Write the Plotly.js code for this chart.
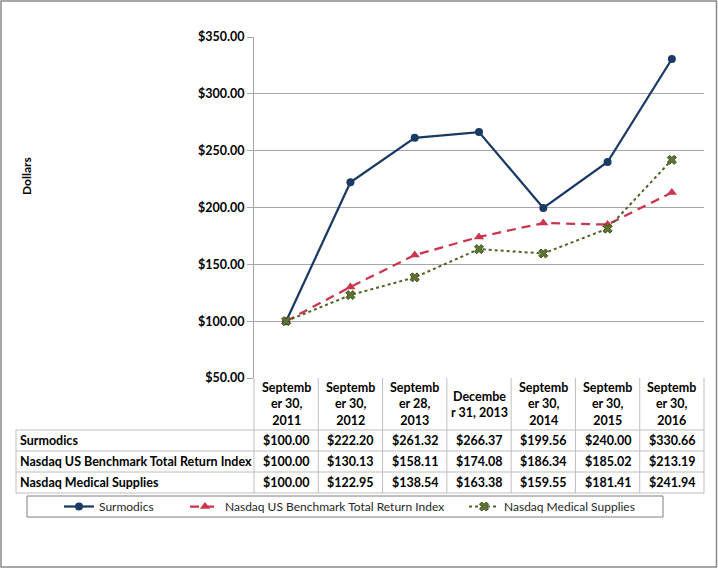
<!DOCTYPE html>
<html>
<head>
<meta charset="utf-8">
<script src="https://cdn.plot.ly/plotly-3.0.1.min.js"></script>
<style>
html,body{margin:0;padding:0;background:#fff;}
#chart{width:718px;height:570px;}
</style>
</head>
<body>
<div id="chart"></div>
<script>
// ---- data ----
const categories = ["Septemb<br>er 30,<br>2011", "Septemb<br>er 30,<br>2012", "Septemb<br>er 28,<br>2013",
  "Decembe<br>r 31, 2013", "Septemb<br>er 30,<br>2014", "Septemb<br>er 30,<br>2015", "Septemb<br>er 30,<br>2016"];
const seriesNames = ["Surmodics", "Nasdaq US Benchmark Total Return Index", "Nasdaq Medical Supplies"];
const surmodics = [100.00, 222.20, 261.32, 266.37, 199.56, 240.00, 330.66];
const nasdaqUS = [100.00, 130.13, 158.11, 174.08, 186.34, 185.02, 213.19];
const nasdaqMed = [100.00, 122.95, 138.54, 163.38, 159.55, 181.41, 241.94];
const yTitle = "Dollars";

// ---- layout geometry (pixels) ----
const W = 718, H = 570;
const L = 254, R = 704, T = 37, B = 378;
const px = x => (x - L) / (R - L);
const py = y => (B - y) / (B - T);

const FONT = "Lato, 'Liberation Sans', sans-serif";
const gridCol = "#A6A6A6";
const tblCol = "#BFBFBF";

const allSeries = [surmodics, nasdaqUS, nasdaqMed];
const traces = [
  {x: categories, y: surmodics, name: seriesNames[0], type: "scatter", mode: "lines+markers",
   line: {color: "#1B3A63", width: 2.25}, marker: {symbol: "circle", size: 8, color: "#1B3A63"}, legend: "legend"},
  {x: categories, y: nasdaqUS, name: seriesNames[1], type: "scatter", mode: "lines+markers",
   line: {color: "#C9354F", width: 2.25, dash: "9px,6px"}, marker: {symbol: "triangle-up", size: 9, color: "#C9354F"}, legend: "legend2"},
  {x: categories, y: nasdaqMed, name: seriesNames[2], type: "scatter", mode: "lines+markers",
   line: {color: "#4F6228", width: 2, dash: "dot"}, marker: {symbol: "x", size: 8, color: "#5E7430", line: {color: "#3F5020", width: 1}}, legend: "legend3"}
];

// ---- table ----
const shapes = [];
const ann = [];
function hline(y, x0, x1) {
  shapes.push({type: "line", xref: "paper", yref: "paper", x0: px(x0), x1: px(x1), y0: py(y), y1: py(y), line: {color: tblCol, width: 1}});
}
function vline(x, y0, y1, col) {
  shapes.push({type: "line", xref: "paper", yref: "paper", x0: px(x), x1: px(x), y0: py(y0), y1: py(y1), line: {color: col || tblCol, width: 1}});
}
const rowY = [430, 451, 472, 493];
rowY.forEach(y => hline(y, 16, R));
vline(16, 430, 493);
vline(L, B, 493);
const colW = (R - L) / categories.length;
for (let i = 1; i <= categories.length; i++) vline(L + i * colW, B, 493);

categories.forEach((c, i) => {
  ann.push({xref: "x", yref: "paper", x: c, y: py(404), text: "<b>" + c + "</b>", showarrow: false,
    xanchor: "center", yanchor: "middle", font: {family: FONT, size: 12.5, color: "#000"}});
});
allSeries.forEach((s, r) => {
  const yc = (rowY[r] + rowY[r + 1]) / 2;
  ann.push({xref: "paper", yref: "paper", x: px(18), y: py(yc), text: "<b>" + seriesNames[r] + "</b>", showarrow: false,
    xanchor: "left", yanchor: "middle", font: {family: FONT, size: 12.5, color: "#000"}});
  s.forEach((v, i) => {
    ann.push({xref: "x", yref: "paper", x: categories[i], y: py(yc), text: "<b>$" + v.toFixed(2) + "</b>", showarrow: false,
      xanchor: "center", yanchor: "middle", font: {family: FONT, size: 12.5, color: "#000"}});
  });
});

// y-axis title
ann.push({xref: "paper", yref: "paper", x: px(26), y: py(176), text: "<b>" + yTitle + "</b>", textangle: -90, showarrow: false,
  xanchor: "center", yanchor: "middle", font: {family: FONT, size: 12, color: "#000"}});

// legend box and outer border
shapes.push({type: "rect", xref: "paper", yref: "paper", x0: px(27), x1: px(663), y0: py(496), y1: py(517), line: {color: "#7F7F7F", width: 1}});
shapes.push({type: "rect", xref: "paper", yref: "paper", x0: px(1), x1: px(716.5), y0: py(1), y1: py(567), line: {color: "#898989", width: 1.5}});

const legFont = {family: FONT, size: 12, color: "#262626"};
const legBase = {orientation: "h", xanchor: "left", yanchor: "middle", bgcolor: "rgba(0,0,0,0)", borderwidth: 0, font: legFont, y: py(506.5)};

const layout = {
  width: W, height: H,
  margin: {l: L, r: W - R, t: T, b: H - B, pad: 0},
  paper_bgcolor: "#fff", plot_bgcolor: "#fff",
  showlegend: true,
  legend: Object.assign({}, legBase, {x: px(59)}),
  legend2: Object.assign({}, legBase, {x: px(185)}),
  legend3: Object.assign({}, legBase, {x: px(464)}),
  xaxis: {type: "category", range: [-0.5, categories.length - 0.5], showticklabels: false, showgrid: false,
    zeroline: false, showline: false, ticks: "", fixedrange: true},
  yaxis: {range: [50, 350], dtick: 50, tick0: 50, tickprefix: "$", tickformat: ".2f", showgrid: true, gridcolor: gridCol, gridwidth: 1,
    showline: true, linecolor: gridCol, linewidth: 1, ticks: "outside", ticklen: 6, tickcolor: gridCol,
    zeroline: false, tickfont: {family: FONT, size: 12.5, color: "#000", weight: "bold"}, automargin: false, fixedrange: true},
  shapes: shapes,
  annotations: ann,
  font: {family: FONT}
};

Plotly.newPlot("chart", traces, layout, {displayModeBar: false, staticPlot: true});
</script>
</body>
</html>
